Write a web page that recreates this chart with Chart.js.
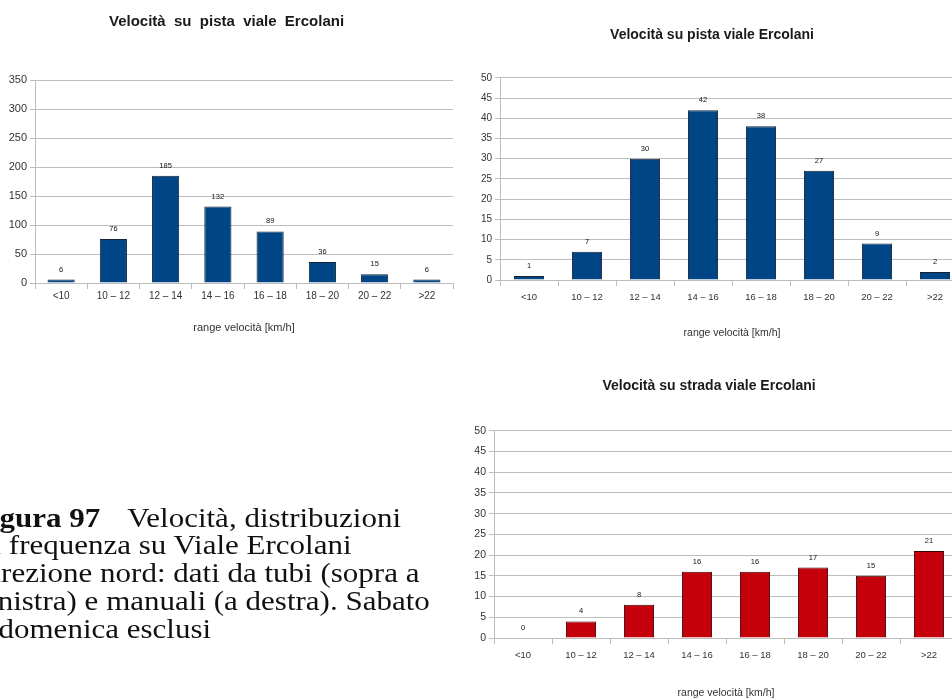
<!DOCTYPE html>
<html lang="it">
<head>
<meta charset="utf-8">
<title>Velocità su viale Ercolani</title>
<script src="https://cdn.jsdelivr.net/npm/chart.js@4.4.1/dist/chart.umd.min.js"></script>
<style>
  html, body { margin: 0; padding: 0; background: #fff; }
  body { width: 952px; height: 699px; overflow: hidden; position: relative; }
  .panel { position: absolute; }
  .panel canvas { display: block; }
  #caption {
    position: absolute; left: -23px; top: 504px; width: 520px;
    font-family: "Liberation Serif", "Times New Roman", serif;
    font-size: 31px; line-height: 32px; color: #111;
    transform: scaleY(0.87); transform-origin: 0 0; white-space: nowrap;
  }
  #caption b { font-weight: bold; margin-left: -5px; }
  #caption .gap { display: inline-block; width: 27px; }
</style>
</head>
<body>
<div class="panel" style="left:0;top:0"><canvas id="tubes" width="472" height="345"></canvas></div>
<div class="panel" style="left:460px;top:0"><canvas id="manualBike" width="534" height="350"></canvas></div>
<div class="panel" style="left:460px;top:360px"><canvas id="manualRoad" width="524" height="339"></canvas></div>
<div id="caption"><b>Figura 97</b><span class="gap"></span>Velocità, distribuzioni<br>di frequenza su Viale Ercolani<br>direzione nord: dati da tubi (sopra a<br>sinistra) e manuali (a destra). Sabato<br>e domenica esclusi</div>
<script>
// Speed classes [km/h] shared by all three histograms
const speedRanges = ['<10', '10 – 12', '12 – 14', '14 – 16', '16 – 18', '18 – 20', '20 – 22', '>22'];

// Counts per class
const tubesCounts = [6, 76, 185, 132, 89, 36, 15, 6];        // pneumatic tubes, cycle track
const manualBikeCounts = [1, 7, 30, 42, 38, 27, 9, 2];       // manual survey, cycle track
const manualRoadCounts = [0, 4, 8, 16, 16, 17, 15, 21];      // manual survey, roadway

// Y axis ranges
const tubesAxis = { max: 350, step: 50 };
const manualAxis = { max: 50, step: 5 };

const axisTitle = 'range velocità [km/h]';
const titleTubes = 'Velocità  su  pista  viale  Ercolani';
const titleBike = 'Velocità su pista viale Ercolani';
const titleRoad = 'Velocità su strada viale Ercolani';

Chart.defaults.font.family = '"Liberation Sans", Arial, sans-serif';
Chart.defaults.color = '#333';
Chart.defaults.animation = false;

// Writes each bar's value just above it
const valueLabels = {
  id: 'valueLabels',
  afterDatasetsDraw(chart, args, opts) {
    const ctx = chart.ctx;
    ctx.save();
    ctx.font = `${opts.size}px "Liberation Sans", Arial, sans-serif`;
    ctx.fillStyle = '#111';
    ctx.textAlign = 'center';
    ctx.textBaseline = 'middle';
    chart.data.datasets.forEach((ds, i) => {
      chart.getDatasetMeta(i).data.forEach((bar, j) => {
        ctx.fillText(String(ds.data[j]), bar.x, bar.y - opts.offset);
      });
    });
    ctx.restore();
  }
};

const GRID = '#bdbdbd';

function histogram(id, cfg) {
  return new Chart(document.getElementById(id), {
    type: 'bar',
    data: {
      labels: speedRanges,
      datasets: [{
        data: cfg.values,
        backgroundColor: cfg.fill,
        borderColor: cfg.border,
        borderWidth: 1,
        categoryPercentage: 1,
        barPercentage: 0.52
      }]
    },
    plugins: [valueLabels],
    options: {
      responsive: false,
      devicePixelRatio: 1,
      layout: { padding: { left: 0, right: cfg.padRight, top: 0, bottom: 0 } },
      plugins: {
        legend: { display: false },
        tooltip: { enabled: false },
        title: {
          display: true,
          text: cfg.title,
          color: '#1a1a1a',
          font: { size: cfg.titleSize, weight: 'bold' },
          padding: { top: cfg.titleTop, bottom: cfg.titleBottom }
        },
        valueLabels: { size: 7.5, offset: 10 }
      },
      scales: {
        x: {
          grid: { display: true, drawOnChartArea: false, offset: true, tickLength: 6, color: GRID },
          border: { color: GRID },
          ticks: { font: { size: cfg.xTickSize }, color: '#333', padding: cfg.xTickPad, maxRotation: 0, autoSkip: false },
          title: {
            display: true, text: axisTitle, color: '#333',
            font: { size: cfg.axisTitleSize },
            padding: { top: 0, bottom: cfg.axisTitleBottom }
          },
          afterFit(scale) { scale.height = cfg.xHeight; }
        },
        y: {
          min: 0,
          max: cfg.axis.max,
          grid: { color: GRID, tickLength: 5 },
          border: { color: GRID },
          ticks: { stepSize: cfg.axis.step, font: { size: cfg.yTickSize }, color: '#333', padding: 3 },
          afterFit(scale) { scale.width = cfg.yWidth; }
        }
      }
    }
  });
}

histogram('tubes', {
  values: tubesCounts, axis: tubesAxis, title: titleTubes,
  fill: '#004586', border: '#142233',
  titleSize: 15, titleTop: 13, titleBottom: 49,
  yWidth: 35, padRight: 19, xHeight: 62,
  xTickSize: 10, xTickPad: 1, yTickSize: 11,
  axisTitleSize: 11, axisTitleBottom: 10
});

histogram('manualBike', {
  values: manualBikeCounts, axis: manualAxis, title: titleBike,
  fill: '#004586', border: '#142233',
  titleSize: 14, titleTop: 27, titleBottom: 34,
  yWidth: 40, padRight: 30, xHeight: 70,
  xTickSize: 9.5, xTickPad: 6, yTickSize: 10,
  axisTitleSize: 10.5, axisTitleBottom: 11
});

histogram('manualRoad', {
  values: manualRoadCounts, axis: manualAxis, title: titleRoad,
  fill: '#c5000b', border: '#3a0404',
  titleSize: 14, titleTop: 18, titleBottom: 36,
  yWidth: 34, padRight: 26, xHeight: 61,
  xTickSize: 9.5, xTickPad: 6, yTickSize: 10.5,
  axisTitleSize: 10.5, axisTitleBottom: 0
});
</script>
</body>
</html>
